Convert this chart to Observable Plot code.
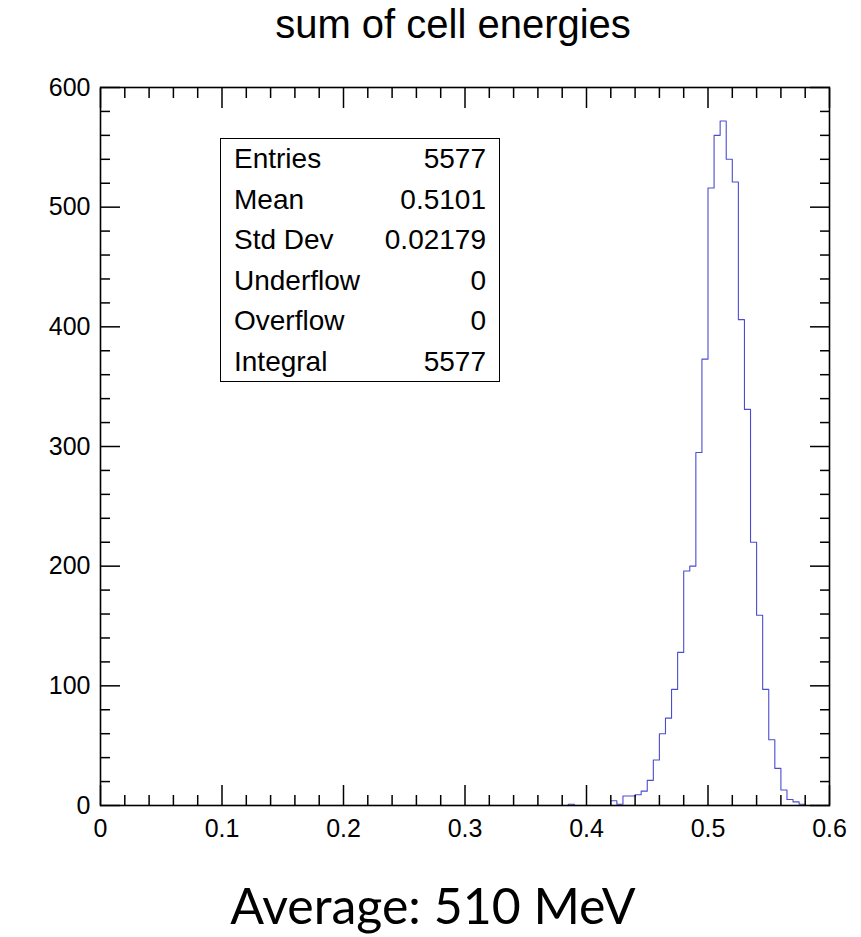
<!DOCTYPE html>
<html>
<head>
<meta charset="utf-8">
<script src="https://cdn.jsdelivr.net/npm/d3@7"></script>
<script src="https://cdn.jsdelivr.net/npm/@observablehq/plot@0.6"></script>
<style>
  html, body { margin: 0; padding: 0; background: #fff; }
  #page { position: relative; width: 861px; height: 937px; overflow: hidden; background: #fff; }
  #title {
    position: absolute; top: 4px; left: 453px; transform: translateX(-50%);
    font: 40px/1 "Liberation Sans", Arial, sans-serif; color: #000; white-space: nowrap;
  }
  #chart { position: absolute; top: 60px; left: 0; }
  #stats {
    position: absolute; left: 220px; top: 138px; width: 280px; height: 244px;
    box-sizing: border-box; border: 1.5px solid #000; background: #fff;
    font: 28px/40.6px "Liberation Sans", Arial, sans-serif; color: #000;
    padding: 0 13px 0 13px;
  }
  #stats .row { display: flex; justify-content: space-between; white-space: nowrap; }
  #caption {
    position: absolute; top: 880px; left: 433px; transform: translateX(-50%);
    font: 50px/1 "Lato", "Liberation Sans", sans-serif; color: #000; white-space: nowrap;
  }
</style>
</head>
<body>
<div id="page">
  <div id="title"></div>
  <div id="chart"></div>
  <div id="stats"></div>
  <div id="caption"></div>
</div>
<script>
// Histogram of summed cell energies, 0.005-wide bins starting at 0.38
const titleText = "sum of cell energies";
const captionText = "Average: 510 MeV";
const binStart = 0.38;
const binWidth = 0.005;
const counts = [
  0, 1, 0, 0, 0, 0, 0, 0,          // 0.380 – 0.415
  4, 1, 8, 8, 9, 12, 21, 38,       // 0.420 – 0.455
  60, 73, 97, 128, 196, 200, 295, 373, // 0.460 – 0.495
  516, 560, 572, 540, 521, 406, 331, 220, // 0.500 – 0.535
  159, 97, 55, 31, 13, 5, 3, 1     // 0.540 – 0.575
];

// Statistics box
const statNames = ["Entries", "Mean", "Std Dev", "Underflow", "Overflow", "Integral"];
const statValues = ["5577", "0.5101", "0.02179", "0", "0", "5577"];

// Axis ticks
const xMajor = [0, 0.1, 0.2, 0.3, 0.4, 0.5, 0.6];
const xMinor = d3.range(0, 0.6001, 0.02).filter(v => Math.abs(v * 10 - Math.round(v * 10)) > 1e-6);
const yMajor = [0, 100, 200, 300, 400, 500, 600];
const yMinor = d3.range(0, 601, 20).filter(v => v % 100 !== 0);

// Step outline across the full axis range
const outline = [{x: 0, y: 0}];
counts.forEach((c, i) => outline.push({x: binStart + i * binWidth, y: c}));
outline.push({x: binStart + counts.length * binWidth, y: 0});
outline.push({x: 0.6, y: 0});

const font = "Liberation Sans, Arial, sans-serif";
const axisColor = "#000";
const tickOpts = {text: null, label: null, strokeWidth: 1.5, stroke: axisColor};

const chart = Plot.plot({
  width: 861,
  height: 805,
  marginLeft: 100,
  marginRight: 32,
  marginTop: 27,
  marginBottom: 60,
  style: {fontFamily: font, background: "white"},
  x: {domain: [0, 0.6], label: null},
  y: {domain: [0, 600], label: null},
  marks: [
    Plot.line(outline, {x: "x", y: "y", curve: "step-after", stroke: "#4c4cd0", strokeWidth: 1.1}),
    // inward ticks on all four sides
    Plot.axisX(xMajor, {anchor: "bottom", tickSize: -20, ...tickOpts}),
    Plot.axisX(xMinor, {anchor: "bottom", tickSize: -10, ...tickOpts}),
    Plot.axisX(xMajor, {anchor: "top", tickSize: -20, ...tickOpts}),
    Plot.axisX(xMinor, {anchor: "top", tickSize: -10, ...tickOpts}),
    Plot.axisY(yMajor, {anchor: "left", tickSize: -20, ...tickOpts}),
    Plot.axisY(yMinor, {anchor: "left", tickSize: -10, ...tickOpts}),
    Plot.axisY(yMajor, {anchor: "right", tickSize: -20, ...tickOpts}),
    Plot.axisY(yMinor, {anchor: "right", tickSize: -10, ...tickOpts}),
    // tick labels
    Plot.axisX(xMajor, {anchor: "bottom", tickSize: 0, tickPadding: 14, fontSize: 25, fill: "#000",
      tickFormat: d => String(+d.toFixed(1)), label: null}),
    Plot.axisY(yMajor, {anchor: "left", tickSize: 0, tickPadding: 10, fontSize: 25, fill: "#000",
      tickFormat: d => String(d), label: null}),
    Plot.frame({stroke: axisColor, strokeWidth: 1.6})
  ]
});
document.getElementById("chart").appendChild(chart);

document.getElementById("title").textContent = titleText;
document.getElementById("caption").textContent = captionText;

const stats = document.getElementById("stats");
statNames.forEach((name, i) => {
  const row = document.createElement("div");
  row.className = "row";
  const a = document.createElement("span");
  a.textContent = name;
  const b = document.createElement("span");
  b.textContent = statValues[i];
  row.append(a, b);
  stats.appendChild(row);
});
</script>
</body>
</html>
